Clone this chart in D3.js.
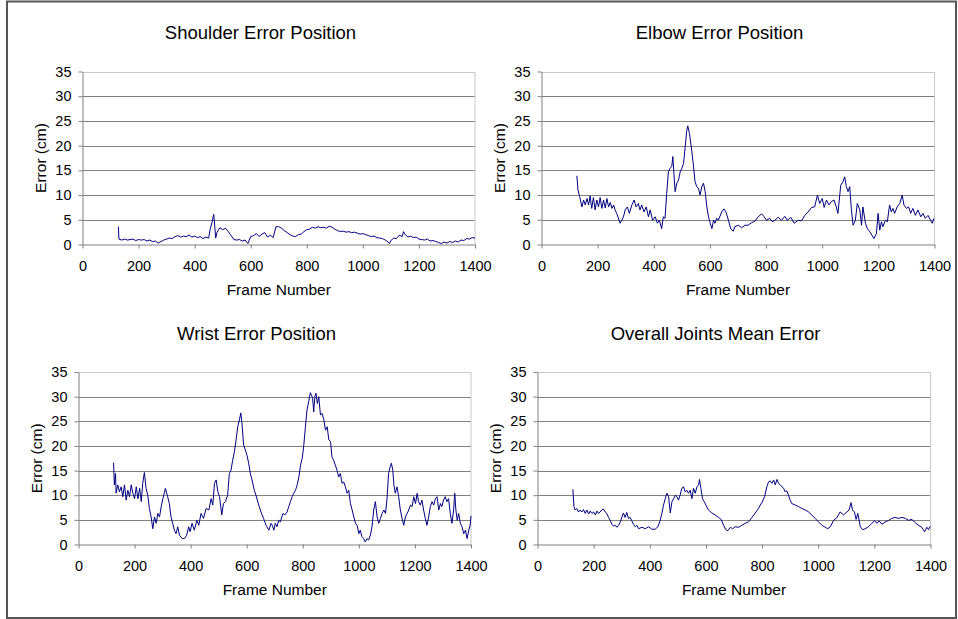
<!DOCTYPE html>
<html>
<head>
<meta charset="utf-8">
<script src="https://cdn.jsdelivr.net/npm/d3@7"></script>
<style>
  body { margin: 0; background: #fff; }
  svg { display: block; }
  text { font-family: "Liberation Sans", Arial, sans-serif; fill: #000; }
</style>
</head>
<body>
<div id="chart"></div>
<script>
// chart titles and axis labels
const titles = ["Shoulder Error Position", "Elbow Error Position", "Wrist Error Position", "Overall Joints Mean Error"];
const xLabel = "Frame Number";
const yLabel = "Error (cm)";
const xTicks = [0, 200, 400, 600, 800, 1000, 1200, 1400];
const yTicks = [0, 5, 10, 15, 20, 25, 30, 35];

// [frame, error cm]
const shoulder = [
  [128,3.6],[130,1.1],[140,0.9],[150,1.1],[160,0.9],[170,1.0],[180,1.1],[190,0.8],[200,1.0],[210,0.9],
  [220,1.0],[230,0.7],[240,0.9],[250,0.6],[260,0.7],[270,0.3],[280,0.6],[290,0.9],[300,1.1],[310,1.3],
  [320,1.2],[330,1.6],[340,1.8],[350,1.5],[360,1.7],[370,1.6],[380,1.9],[390,1.5],[400,1.7],[410,1.4],
  [420,1.6],[430,1.2],[440,1.5],[450,1.3],[455,3.0],[462,4.5],[468,6.1],[472,3.5],[475,1.3],[480,2.5],
  [490,3.4],[500,3.0],[510,3.3],[520,2.6],[530,1.8],[540,1.0],[550,0.9],[560,1.0],[570,0.7],[580,0.9],
  [590,0.2],[600,1.6],[610,1.8],[620,2.2],[630,1.6],[640,2.1],[650,2.4],[660,1.5],[670,1.9],[680,1.4],
  [690,3.6],[700,3.6],[710,3.3],[720,2.8],[730,2.4],[740,2.0],[750,1.7],[760,1.6],[770,2.0],[780,2.1],
  [790,2.6],[800,3.0],[810,3.1],[820,3.5],[830,3.3],[840,3.6],[850,3.4],[860,3.5],[870,3.3],[880,3.7],
  [890,3.5],[900,3.1],[910,2.8],[920,2.6],[930,2.7],[940,2.5],[950,2.6],[960,2.4],[970,2.5],[980,2.3],
  [990,2.1],[1000,2.2],[1010,2.0],[1020,1.8],[1030,1.6],[1040,1.7],[1050,1.4],[1060,1.3],[1070,1.2],[1080,0.9],
  [1090,0.5],[1095,0.2],[1100,0.8],[1110,1.3],[1120,1.2],[1130,1.9],[1140,1.6],[1145,2.6],[1150,2.1],[1160,1.5],
  [1170,1.7],[1180,1.4],[1190,1.5],[1200,1.1],[1210,1.0],[1220,0.9],[1230,1.1],[1240,0.7],[1250,0.8],[1260,0.6],
  [1270,0.4],[1280,0.2],[1290,0.5],[1300,0.3],[1310,0.6],[1320,0.4],[1330,0.7],[1340,0.5],[1350,0.9],[1360,0.8],
  [1370,1.2],[1380,1.1],[1390,1.4],[1400,1.3]
];

const elbow = [
  [126,13.9],[130,11.0],[136,9.7],[144,7.6],[150,9.0],[156,8.0],[162,9.3],[168,8.0],[173,9.8],[179,7.3],
  [185,9.5],[191,7.0],[197,9.0],[203,7.6],[209,9.5],[215,7.3],[221,9.0],[227,7.4],[233,9.3],[239,7.6],
  [245,8.5],[251,7.3],[257,8.0],[262,7.0],[268,6.3],[280,4.3],[286,4.9],[292,5.6],[298,7.0],[306,7.6],
  [313,6.3],[322,8.0],[330,9.0],[337,7.6],[345,8.3],[351,7.0],[357,8.0],[365,6.6],[373,7.6],[381,5.6],
  [387,7.0],[396,4.9],[405,5.6],[413,4.3],[420,4.9],[428,3.2],[434,5.6],[440,5.3],[446,10.3],[452,14.7],
  [458,15.4],[464,15.8],[468,17.8],[472,14.1],[476,10.7],[482,12.4],[488,13.0],[494,14.7],[500,15.4],[506,16.4],
  [512,19.8],[517,22.9],[521,24.0],[527,22.5],[535,19.1],[541,16.1],[547,12.7],[553,11.7],[559,11.4],[565,10.0],
  [571,11.7],[577,12.4],[583,10.7],[589,7.6],[595,5.6],[601,4.3],[607,3.2],[613,4.9],[618,4.3],[624,5.3],
  [630,4.9],[642,6.6],[650,7.2],[657,6.6],[666,4.9],[674,3.2],[683,2.7],[689,3.6],[701,3.9],[713,3.4],
  [725,3.9],[736,3.9],[748,4.4],[760,4.7],[772,5.6],[784,6.2],[792,5.7],[802,4.9],[813,5.3],[822,4.6],
  [831,4.9],[843,5.5],[855,4.9],[867,5.7],[876,4.9],[888,5.5],[900,4.3],[914,4.9],[926,4.8],[938,5.9],
  [950,6.6],[962,7.5],[973,7.6],[983,10.0],[991,8.3],[1000,9.3],[1007,7.5],[1015,9.0],[1024,8.0],[1033,8.7],
  [1042,9.0],[1050,7.6],[1056,6.3],[1066,12.0],[1074,12.7],[1080,13.7],[1086,11.7],[1092,10.7],[1098,11.7],[1104,7.0],
  [1110,3.9],[1118,4.9],[1125,8.3],[1134,7.0],[1140,3.9],[1145,7.6],[1154,4.3],[1161,3.2],[1169,2.6],[1177,1.9],
  [1184,1.2],[1193,2.2],[1199,6.3],[1205,2.9],[1211,4.6],[1216,3.6],[1225,4.9],[1232,4.6],[1240,8.0],[1246,6.6],
  [1252,7.3],[1258,6.3],[1267,7.6],[1276,8.3],[1285,10.0],[1291,8.0],[1300,7.3],[1308,7.6],[1315,6.3],[1323,7.3],
  [1332,5.9],[1341,7.0],[1351,5.6],[1359,6.3],[1367,5.3],[1377,5.9],[1386,4.9],[1392,4.3],[1398,5.3]
];

const wrist = [
  [125,16.6],[128,12.1],[132,14.4],[134,10.4],[140,12.1],[146,10.7],[152,11.7],[158,9.7],[164,12.1],[170,9.0],
  [176,11.0],[182,9.7],[188,12.1],[194,10.4],[200,9.3],[206,11.7],[212,9.3],[218,11.4],[224,8.7],[229,12.4],
  [235,14.6],[241,11.4],[247,10.0],[253,7.3],[259,5.6],[265,3.2],[271,5.6],[277,4.3],[283,6.3],[289,5.6],
  [295,7.7],[301,9.3],[310,11.4],[318,9.7],[324,8.3],[330,5.6],[336,4.3],[342,2.9],[348,2.2],[354,3.6],
  [360,1.9],[370,1.2],[378,1.2],[386,1.9],[393,3.6],[398,2.6],[405,4.3],[413,2.9],[422,4.9],[429,3.9],
  [437,6.3],[446,5.3],[455,7.3],[465,7.0],[473,9.3],[479,8.0],[485,12.4],[491,13.1],[497,10.7],[503,9.7],
  [511,6.0],[517,8.3],[524,8.7],[532,10.0],[538,14.4],[544,15.1],[550,17.1],[556,18.8],[562,21.2],[568,23.9],
  [574,25.3],[579,26.7],[583,24.6],[589,20.2],[595,19.2],[601,18.1],[607,16.5],[613,14.4],[619,13.1],[627,11.0],
  [633,10.0],[643,8.0],[651,6.6],[660,5.3],[669,3.9],[679,2.9],[687,4.3],[691,3.9],[697,2.9],[702,4.3],
  [708,3.6],[714,4.9],[720,4.6],[729,6.3],[736,6.0],[744,6.6],[750,7.7],[756,8.7],[762,9.7],[768,10.4],
  [774,11.0],[780,12.1],[786,13.7],[792,16.1],[798,17.5],[803,19.8],[809,23.6],[815,27.3],[821,29.0],[827,30.8],
  [831,30.3],[835,29.7],[839,26.9],[843,30.0],[847,30.7],[852,28.6],[857,30.0],[863,26.3],[869,26.6],[875,25.3],
  [881,23.2],[887,23.9],[893,21.2],[899,20.9],[904,17.8],[910,17.1],[916,16.1],[922,15.1],[928,13.7],[934,14.4],
  [940,12.4],[946,12.7],[952,11.7],[958,10.4],[964,11.0],[970,8.3],[976,7.0],[982,5.6],[988,4.3],[994,3.9],
  [1000,2.2],[1005,2.9],[1011,1.6],[1017,1.2],[1023,0.5],[1029,1.2],[1035,0.9],[1041,1.9],[1047,3.6],[1053,7.0],
  [1059,8.7],[1065,5.6],[1071,4.3],[1077,5.3],[1083,6.3],[1089,7.0],[1095,6.3],[1100,9.0],[1106,14.4],[1112,15.8],
  [1116,16.5],[1121,15.1],[1125,12.1],[1130,10.4],[1136,11.7],[1142,9.7],[1148,7.0],[1154,5.3],[1160,3.9],[1166,5.6],
  [1172,6.3],[1178,7.0],[1184,8.0],[1190,7.7],[1196,9.7],[1202,8.3],[1208,10.4],[1213,8.7],[1219,8.0],[1225,9.0],
  [1231,7.0],[1237,5.3],[1243,3.9],[1249,5.6],[1255,7.7],[1261,8.7],[1267,8.0],[1273,9.3],[1279,9.7],[1285,7.0],
  [1291,8.3],[1296,7.7],[1302,9.0],[1308,9.7],[1314,8.7],[1320,9.3],[1326,6.3],[1332,4.3],[1338,7.0],[1342,10.4],
  [1346,7.0],[1351,4.9],[1356,6.3],[1362,4.3],[1368,3.6],[1374,2.2],[1380,2.9],[1386,1.2],[1392,2.9],[1397,3.9],
  [1400,5.8]
];

const overall = [
  [126,11.2],[130,7.7],[134,7.0],[140,7.3],[146,6.6],[152,7.0],[158,6.6],[164,7.1],[170,6.3],[176,7.0],
  [182,6.2],[188,6.8],[194,6.3],[200,6.6],[206,6.0],[212,6.8],[217,6.3],[223,6.6],[229,7.0],[235,7.2],
  [241,6.6],[247,6.3],[253,5.5],[259,4.9],[265,4.1],[271,3.7],[277,3.9],[283,3.5],[289,3.9],[295,4.6],
  [301,5.6],[306,6.4],[312,5.5],[318,6.5],[324,5.3],[330,5.5],[336,4.8],[342,4.1],[348,3.6],[354,3.9],
  [360,3.2],[372,3.5],[384,3.2],[396,3.6],[407,3.1],[419,3.1],[429,3.6],[437,4.9],[443,6.3],[449,8.0],
  [455,9.3],[461,10.4],[467,9.7],[473,6.4],[479,8.7],[485,9.3],[491,10.0],[497,9.7],[502,9.0],[508,10.0],
  [514,11.4],[520,11.7],[526,10.7],[532,11.0],[538,10.4],[544,11.0],[550,9.3],[556,11.4],[562,10.4],[568,11.7],
  [574,12.1],[577,13.2],[582,11.4],[588,9.3],[594,8.7],[600,8.0],[609,7.0],[621,6.4],[633,6.0],[645,5.5],
  [654,5.1],[663,3.9],[671,3.0],[678,2.8],[687,3.5],[695,3.2],[704,3.6],[716,3.5],[728,3.9],[740,4.3],
  [752,4.6],[764,5.5],[776,6.4],[787,7.3],[799,8.5],[809,9.7],[817,11.7],[823,12.7],[829,12.9],[835,12.4],
  [841,13.1],[847,12.1],[853,13.2],[859,12.4],[865,12.1],[871,11.7],[877,11.4],[882,10.7],[888,10.9],[894,10.0],
  [900,9.0],[906,8.3],[918,8.0],[930,7.7],[942,7.3],[954,7.0],[966,6.6],[977,6.0],[989,5.3],[1001,4.6],
  [1013,3.9],[1025,3.5],[1034,3.2],[1043,3.6],[1055,4.9],[1067,5.5],[1078,6.6],[1090,6.0],[1102,6.6],[1110,7.0],
  [1117,8.5],[1122,7.0],[1129,6.6],[1135,5.1],[1141,6.3],[1150,3.6],[1158,3.0],[1167,3.2],[1179,3.6],[1191,4.3],
  [1201,4.8],[1209,4.3],[1217,4.8],[1227,4.1],[1239,4.6],[1251,4.9],[1262,5.3],[1274,5.5],[1286,5.3],[1298,5.5],
  [1310,5.3],[1322,4.9],[1334,5.1],[1346,4.4],[1357,3.9],[1369,3.5],[1379,2.6],[1387,3.5],[1393,3.0],[1399,3.7]
];

const width = 958, height = 619;

const svg = d3.select("#chart")
  .append("svg")
  .attr("width", width)
  .attr("height", height);

// outer frame
svg.append("rect")
  .attr("x", 7).attr("y", 1.5)
  .attr("width", 949).attr("height", 616.5)
  .attr("fill", "none")
  .attr("stroke", "#555")
  .attr("stroke-width", 2);

const panels = [
  { title: titles[0], data: shoulder, left: 82.5, right: 475, top: 71.5, bottom: 244.5 },
  { title: titles[1], data: elbow,    left: 541.5, right: 934.5, top: 71.5, bottom: 244.5 },
  { title: titles[2], data: wrist,    left: 78.5, right: 471, top: 372, bottom: 544.5 },
  { title: titles[3], data: overall,  left: 537.5, right: 930.5, top: 372, bottom: 544.5 }
];

panels.forEach(p => {
  let x = d3.scaleLinear().domain([0, 1400]).range([p.left, p.right]);
  let y = d3.scaleLinear().domain([0, 35]).range([p.bottom, p.top]);

  const g = svg.append("g");

  // gridlines
  g.append("g")
    .selectAll("line")
    .data(yTicks.filter(d => d > 0 && d < 35))
    .join("line")
    .attr("x1", p.left).attr("x2", p.right)
    .attr("y1", d => Math.round(y(d)) + 0.5).attr("y2", d => Math.round(y(d)) + 0.5)
    .attr("stroke", "#808080");

  // plot area border (top and right)
  g.append("path")
    .attr("d", `M${p.left},${Math.round(y(35)) + 0.5}H${p.right}V${p.bottom}`)
    .attr("fill", "none")
    .attr("stroke", "#c8c8c8");

  const yAxis = g.append("g")
    .attr("transform", `translate(${p.left},0)`)
    .call(d3.axisLeft(y).tickValues(yTicks).tickSize(4).tickSizeOuter(0).tickPadding(7));

  const xAxis = g.append("g")
    .attr("transform", `translate(0,${p.bottom})`)
    .call(d3.axisBottom(x).tickValues(xTicks).tickFormat(d3.format("d"))
      .tickSize(4).tickSizeOuter(0).tickPadding(12));

  [xAxis, yAxis].forEach(a => {
    a.attr("font-family", null).attr("font-size", 14.5);
    a.select(".domain").attr("stroke", "#808080");
    a.selectAll(".tick line").attr("stroke", "#808080");
    a.selectAll(".tick text").attr("fill", "#000");
  });

  g.append("path")
    .datum(p.data)
    .attr("fill", "none")
    .attr("stroke", "#000080")
    .attr("stroke-width", 1)
    .attr("d", d3.line().x(d => x(d[0])).y(d => y(d[1])));

  g.append("text")
    .attr("x", p.left + 178)
    .attr("y", p.top - 32.5)
    .attr("text-anchor", "middle")
    .attr("font-size", 18.5)
    .text(p.title);

  g.append("text")
    .attr("x", (p.left + p.right) / 2)
    .attr("y", p.bottom + 50.7)
    .attr("text-anchor", "middle")
    .attr("font-size", 15.5)
    .text(xLabel);

  g.append("text")
    .attr("transform", `translate(${p.left - 37},${(p.top + p.bottom) / 2}) rotate(-90)`)
    .attr("text-anchor", "middle")
    .attr("font-size", 15.5)
    .text(yLabel);
});
</script>
</body>
</html>
